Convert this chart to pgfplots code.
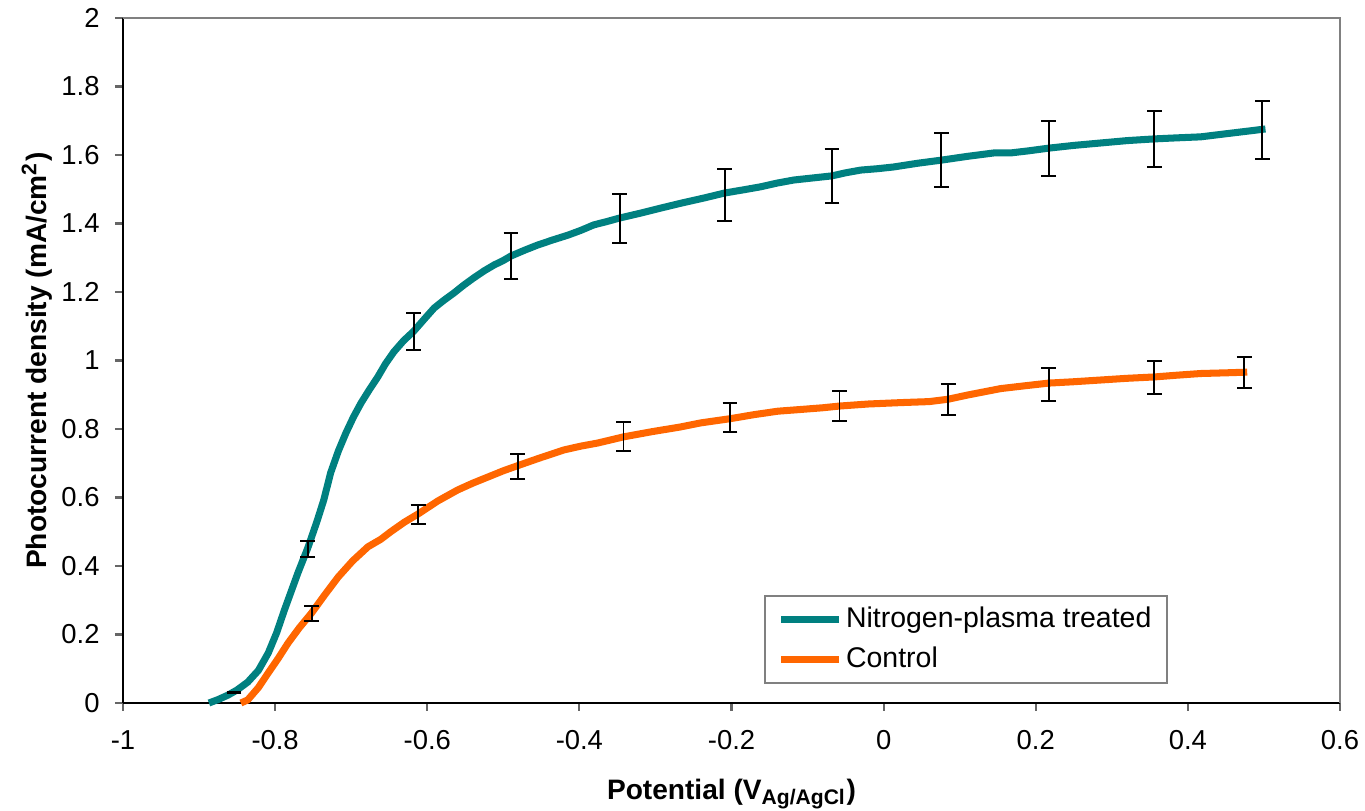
\documentclass[border=0pt]{standalone}
\usepackage{pgfplots}
\pgfplotsset{compat=1.18}
\usepackage{pgfplotstable}
\usepackage{fontspec}
\setmainfont{Liberation Sans}

\definecolor{nteal}{RGB}{0,128,128}
\definecolor{ctrl}{RGB}{255,102,0}

% nitrogen-plasma treated
\pgfplotstableread{
x y
-0.887 0.000
-0.875 0.010
-0.862 0.023
-0.850 0.038
-0.836 0.061
-0.822 0.095
-0.809 0.146
-0.798 0.205
-0.788 0.270
-0.779 0.325
-0.770 0.380
-0.757 0.453
-0.745 0.530
-0.736 0.593
-0.727 0.672
-0.717 0.735
-0.707 0.788
-0.697 0.835
-0.687 0.876
-0.676 0.915
-0.665 0.952
-0.655 0.990
-0.644 1.025
-0.631 1.058
-0.618 1.085
-0.605 1.118
-0.591 1.153
-0.578 1.176
-0.565 1.197
-0.552 1.220
-0.539 1.241
-0.525 1.262
-0.512 1.279
-0.500 1.292
-0.490 1.305
-0.472 1.322
-0.455 1.337
-0.435 1.352
-0.415 1.366
-0.398 1.380
-0.381 1.396
-0.365 1.405
-0.347 1.416
-0.320 1.430
-0.293 1.445
-0.265 1.460
-0.237 1.474
-0.209 1.489
-0.185 1.498
-0.162 1.507
-0.140 1.518
-0.118 1.527
-0.093 1.533
-0.068 1.539
-0.050 1.548
-0.030 1.556
-0.008 1.560
0.013 1.565
0.045 1.576
0.076 1.585
0.110 1.596
0.145 1.606
0.167 1.606
0.190 1.612
0.217 1.620
0.250 1.628
0.285 1.635
0.320 1.642
0.356 1.647
0.385 1.650
0.417 1.653
0.450 1.662
0.480 1.670
0.502 1.676
}\nitro

% control
\pgfplotstableread{
x y
-0.845 0.000
-0.836 0.009
-0.822 0.045
-0.809 0.088
-0.796 0.130
-0.783 0.175
-0.768 0.220
-0.752 0.263
-0.735 0.315
-0.717 0.368
-0.698 0.415
-0.678 0.456
-0.661 0.478
-0.648 0.500
-0.630 0.528
-0.612 0.552
-0.586 0.590
-0.560 0.622
-0.540 0.642
-0.520 0.660
-0.500 0.678
-0.481 0.693
-0.450 0.717
-0.420 0.739
-0.398 0.750
-0.376 0.759
-0.342 0.777
-0.305 0.792
-0.267 0.806
-0.240 0.818
-0.202 0.830
-0.170 0.842
-0.139 0.852
-0.109 0.857
-0.080 0.862
-0.058 0.867
-0.020 0.873
0.022 0.877
0.060 0.880
0.085 0.887
0.110 0.899
0.154 0.918
0.185 0.926
0.217 0.934
0.250 0.938
0.285 0.943
0.320 0.948
0.356 0.952
0.385 0.957
0.417 0.962
0.450 0.964
0.478 0.966
}\control

% error bars
\pgfplotstableread{
x y e
-0.854 0.030 0.002
-0.757 0.450 0.024
-0.618 1.085 0.055
-0.490 1.305 0.067
-0.347 1.415 0.072
-0.209 1.483 0.076
-0.068 1.539 0.079
0.076 1.585 0.079
0.217 1.620 0.080
0.356 1.647 0.081
0.498 1.673 0.085
}\nitroerr

\pgfplotstableread{
x y e
-0.752 0.261 0.021
-0.612 0.551 0.028
-0.481 0.690 0.036
-0.342 0.778 0.042
-0.202 0.833 0.043
-0.058 0.867 0.044
0.085 0.886 0.045
0.217 0.930 0.048
0.356 0.950 0.048
0.474 0.965 0.045
}\controlerr

\begin{document}
\begin{tikzpicture}
\begin{axis}[
    scale only axis,
    width=12.17cm, height=6.85cm,
    xmin=-1, xmax=0.6, ymin=0, ymax=2,
    axis x line=bottom, axis y line=left,
    axis line style={-, black, line width=0.6pt},
    xtick={-1,-0.8,-0.6,-0.4,-0.2,0,0.2,0.4,0.6},
    xticklabels={-1,-0.8,-0.6,-0.4,-0.2,0,0.2,0.4,0.6},
    ytick={0,0.2,0.4,0.6,0.8,1,1.2,1.4,1.6,1.8,2},
    yticklabels={0,0.2,0.4,0.6,0.8,1,1.2,1.4,1.6,1.8,2},
    tick align=outside, major tick length=0.08cm,
    tick style={gray!80!black, line width=0.6pt},
    ticklabel style={font=\fontsize{7.8}{9}\selectfont},
    yticklabel style={xshift=-0.03cm},
    xticklabel style={yshift=-0.07cm},
    xlabel={\textbf{Potential (V\textsubscript{Ag/AgCl})}},
    ylabel={\textbf{Photocurrent density (mA/cm\textsuperscript{2})}},
    label style={font=\fontsize{8}{9.5}\selectfont},
    xlabel style={at={(axis description cs:0.5,-0.1328)}, anchor=center},
    ylabel style={at={(axis description cs:-0.0707,0.5)}, anchor=center},
    legend style={at={(axis description cs:0.527,0.0277)}, anchor=south west,
        draw=gray, line width=0.5pt, font=\fontsize{8.1}{9.5}\selectfont,
        inner xsep=3.5pt, inner ysep=1pt, row sep=0pt,
        nodes={inner xsep=1pt}},
    legend cell align=left,
    legend image code/.code={\draw[#1, line width=2pt] (0cm,0cm) -- (0.58cm,0cm);},
    clip=false,
]
\addplot[nteal, line width=2pt, line join=round] table[x=x,y=y] {\nitro};
\addlegendentry{Nitrogen-plasma treated}
\addplot[ctrl, line width=2pt, line join=round] table[x=x,y=y] {\control};
\addlegendentry{Control}

\addplot[draw=none, mark=none, forget plot,
    error bars/.cd, y dir=both, y explicit,
    error bar style={draw=black, line width=0.55pt},
    error mark options={rotate=90, draw=black, mark size=2.1pt, line width=0.55pt}]
    table[x=x,y=y,y error=e] {\nitroerr};
\addplot[draw=none, mark=none, forget plot,
    error bars/.cd, y dir=both, y explicit,
    error bar style={draw=black, line width=0.55pt},
    error mark options={rotate=90, draw=black, mark size=2.1pt, line width=0.55pt}]
    table[x=x,y=y,y error=e] {\controlerr};

\draw[gray, line width=0.6pt] (rel axis cs:0,1) -- (rel axis cs:1,1) -- (rel axis cs:1,0);
\end{axis}
\pgfresetboundingbox
\path[use as bounding box] (-1.23cm,-1.08cm) rectangle (12.42cm,7.03cm);
\end{tikzpicture}
\end{document}
